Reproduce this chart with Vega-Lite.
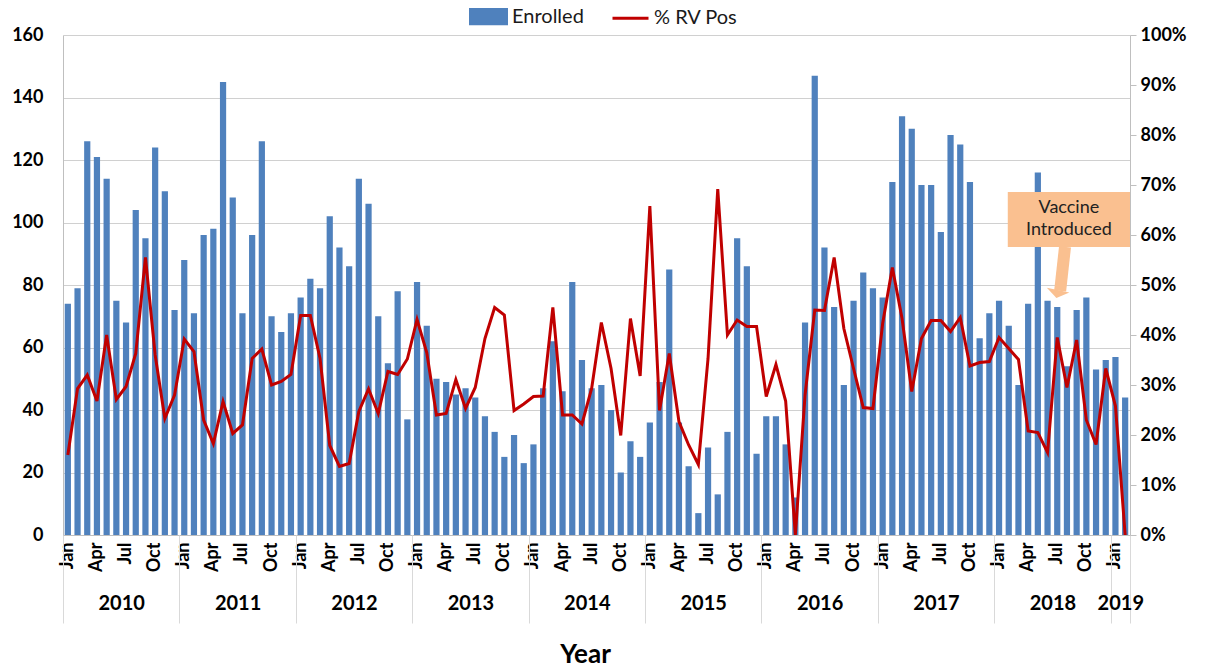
{
  "$schema": "https://vega.github.io/schema/vega-lite/v6.json",
  "width": 1067,
  "height": 500,
  "autosize": "none",
  "padding": {"left": 63, "top": 35, "right": 76, "bottom": 136},
  "background": "white",
  "config": {
    "font": "Lato",
    "view": {"stroke": null},
    "axis": {"labelFont": "Lato", "titleFont": "Lato", "labelColor": "#000000", "titleColor": "#000000"}
  },
  "data": {"values": [
    {"m":"2010-01","enrolled":74,"pct":16},{"m":"2010-02","enrolled":79,"pct":29.3},{"m":"2010-03","enrolled":126,"pct":32},{"m":"2010-04","enrolled":121,"pct":26.8},{"m":"2010-05","enrolled":114,"pct":40},{"m":"2010-06","enrolled":75,"pct":27.1},{"m":"2010-07","enrolled":68,"pct":29.7},{"m":"2010-08","enrolled":104,"pct":36.3},{"m":"2010-09","enrolled":95,"pct":55.5},{"m":"2010-10","enrolled":124,"pct":36},{"m":"2010-11","enrolled":110,"pct":23.3},{"m":"2010-12","enrolled":72,"pct":28},
    {"m":"2011-01","enrolled":88,"pct":39.2},{"m":"2011-02","enrolled":71,"pct":36.7},{"m":"2011-03","enrolled":96,"pct":23},{"m":"2011-04","enrolled":98,"pct":18.3},{"m":"2011-05","enrolled":145,"pct":26.7},{"m":"2011-06","enrolled":108,"pct":20.3},{"m":"2011-07","enrolled":71,"pct":22},{"m":"2011-08","enrolled":96,"pct":35.3},{"m":"2011-09","enrolled":126,"pct":37.2},{"m":"2011-10","enrolled":70,"pct":30},{"m":"2011-11","enrolled":65,"pct":30.7},{"m":"2011-12","enrolled":71,"pct":32.1},
    {"m":"2012-01","enrolled":76,"pct":43.9},{"m":"2012-02","enrolled":82,"pct":43.9},{"m":"2012-03","enrolled":79,"pct":35.3},{"m":"2012-04","enrolled":102,"pct":17.9},{"m":"2012-05","enrolled":92,"pct":13.7},{"m":"2012-06","enrolled":86,"pct":14.3},{"m":"2012-07","enrolled":114,"pct":24.7},{"m":"2012-08","enrolled":106,"pct":29.2},{"m":"2012-09","enrolled":70,"pct":24.3},{"m":"2012-10","enrolled":55,"pct":32.7},{"m":"2012-11","enrolled":78,"pct":32.1},{"m":"2012-12","enrolled":37,"pct":35.2},
    {"m":"2013-01","enrolled":81,"pct":43.1},{"m":"2013-02","enrolled":67,"pct":36.5},{"m":"2013-03","enrolled":50,"pct":24},{"m":"2013-04","enrolled":49,"pct":24.3},{"m":"2013-05","enrolled":45,"pct":31.1},{"m":"2013-06","enrolled":47,"pct":25.3},{"m":"2013-07","enrolled":44,"pct":29.5},{"m":"2013-08","enrolled":38,"pct":39.3},{"m":"2013-09","enrolled":33,"pct":45.5},{"m":"2013-10","enrolled":25,"pct":44},{"m":"2013-11","enrolled":32,"pct":24.9},{"m":"2013-12","enrolled":23,"pct":26.2},
    {"m":"2014-01","enrolled":29,"pct":27.7},{"m":"2014-02","enrolled":47,"pct":27.8},{"m":"2014-03","enrolled":62,"pct":45.5},{"m":"2014-04","enrolled":46,"pct":24},{"m":"2014-05","enrolled":81,"pct":24},{"m":"2014-06","enrolled":56,"pct":22.2},{"m":"2014-07","enrolled":47,"pct":29.3},{"m":"2014-08","enrolled":48,"pct":42.5},{"m":"2014-09","enrolled":40,"pct":33.3},{"m":"2014-10","enrolled":20,"pct":19.9},{"m":"2014-11","enrolled":30,"pct":43.3},{"m":"2014-12","enrolled":25,"pct":31.8},
    {"m":"2015-01","enrolled":36,"pct":65.8},{"m":"2015-02","enrolled":49,"pct":24.9},{"m":"2015-03","enrolled":85,"pct":36.3},{"m":"2015-04","enrolled":36,"pct":22.7},{"m":"2015-05","enrolled":22,"pct":18},{"m":"2015-06","enrolled":7,"pct":14.1},{"m":"2015-07","enrolled":28,"pct":35.3},{"m":"2015-08","enrolled":13,"pct":69.2},{"m":"2015-09","enrolled":33,"pct":40},{"m":"2015-10","enrolled":95,"pct":43},{"m":"2015-11","enrolled":86,"pct":41.7},{"m":"2015-12","enrolled":26,"pct":41.7},
    {"m":"2016-01","enrolled":38,"pct":27.7},{"m":"2016-02","enrolled":38,"pct":34.1},{"m":"2016-03","enrolled":29,"pct":26.8},{"m":"2016-04","enrolled":12,"pct":0},{"m":"2016-05","enrolled":68,"pct":28},{"m":"2016-06","enrolled":147,"pct":45},{"m":"2016-07","enrolled":92,"pct":44.9},{"m":"2016-08","enrolled":73,"pct":55.5},{"m":"2016-09","enrolled":48,"pct":41.3},{"m":"2016-10","enrolled":75,"pct":33.3},{"m":"2016-11","enrolled":84,"pct":25.5},{"m":"2016-12","enrolled":79,"pct":25.3},
    {"m":"2017-01","enrolled":76,"pct":42.3},{"m":"2017-02","enrolled":113,"pct":53.5},{"m":"2017-03","enrolled":134,"pct":43.3},{"m":"2017-04","enrolled":130,"pct":28.7},{"m":"2017-05","enrolled":112,"pct":39.3},{"m":"2017-06","enrolled":112,"pct":42.9},{"m":"2017-07","enrolled":97,"pct":42.9},{"m":"2017-08","enrolled":128,"pct":40.7},{"m":"2017-09","enrolled":125,"pct":43.5},{"m":"2017-10","enrolled":113,"pct":33.8},{"m":"2017-11","enrolled":63,"pct":34.5},{"m":"2017-12","enrolled":71,"pct":34.7},
    {"m":"2018-01","enrolled":75,"pct":39.5},{"m":"2018-02","enrolled":67,"pct":37.3},{"m":"2018-03","enrolled":48,"pct":35.1},{"m":"2018-04","enrolled":74,"pct":20.8},{"m":"2018-05","enrolled":116,"pct":20.5},{"m":"2018-06","enrolled":75,"pct":16.5},{"m":"2018-07","enrolled":73,"pct":39.5},{"m":"2018-08","enrolled":54,"pct":29.5},{"m":"2018-09","enrolled":72,"pct":39},{"m":"2018-10","enrolled":76,"pct":23},{"m":"2018-11","enrolled":53,"pct":18.1},{"m":"2018-12","enrolled":56,"pct":33.3},
    {"m":"2019-01","enrolled":57,"pct":25.8},{"m":"2019-02","enrolled":44,"pct":0}
  ]},
  "layer": [
    {
      "layer": [
        {
          "mark": {"type": "bar"},
          "encoding": {
            "x": {
              "field": "m", "type": "ordinal",
              "scale": {"type": "band", "paddingInner": 0.36, "paddingOuter": 0.18},
              "axis": {
                "orient": "bottom",
                "values": ["2010-01","2010-04","2010-07","2010-10","2011-01","2011-04","2011-07","2011-10","2012-01","2012-04","2012-07","2012-10","2013-01","2013-04","2013-07","2013-10","2014-01","2014-04","2014-07","2014-10","2015-01","2015-04","2015-07","2015-10","2016-01","2016-04","2016-07","2016-10","2017-01","2017-04","2017-07","2017-10","2018-01","2018-04","2018-07","2018-10","2019-01"],
                "labelExpr": "['Jan','','','Apr','','','Jul','','','Oct','',''][toNumber(slice(datum.value,5))-1]",
                "labelAngle": 270, "labelFontSize": 18, "labelFontWeight": "bold", "labelPadding": 7,
                "ticks": false, "domain": true, "domainColor": "#bfbfbf", "domainWidth": 1, "grid": false, "title": null
              }
            },
            "y": {
              "field": "enrolled", "type": "quantitative",
              "scale": {"domain": [0, 160], "nice": false},
              "axis": {
                "orient": "left", "values": [0,20,40,60,80,100,120,140,160], "title": null,
                "labelFontSize": 18, "labelFontWeight": "bold", "labelPadding": 20, "ticks": false, "tickSize": 0,
                "domain": true, "domainColor": "#bfbfbf", "grid": true, "gridColor": "#d0d0d0", "gridWidth": 1
              }
            },
            "color": {
              "datum": "Enrolled", "type": "nominal",
              "scale": {"domain": ["Enrolled", "% RV Pos"], "range": ["#4F81BD", "#C00000"]},
              "legend": {
                "orient": "none", "legendX": 406, "legendY": -38, "direction": "horizontal", "title": null,
                "labelFont": "Lato", "labelFontSize": 20, "labelColor": "#1a1a1a",
                "symbolSize": 1296, "symbolStrokeWidth": 3, "labelOffset": 4, "columnPadding": 22,
                "encode": {"symbols": {"update": {
                  "shape": {"signal": "datum.value === 'Enrolled' ? 'M-1,-0.4H1V0.4H-1Z' : 'M-1,0H1'"},
                  "fill": {"signal": "datum.value === 'Enrolled' ? '#4F81BD' : 'transparent'"},
                  "stroke": {"signal": "datum.value === 'Enrolled' ? 'transparent' : '#C00000'"},
                  "strokeWidth": {"value": 3}
                }}}
              }
            }
          }
        },
        {
          "mark": {"type": "line", "strokeWidth": 3},
          "encoding": {
            "x": {"field": "m", "type": "ordinal"},
            "y": {
              "field": "pct", "type": "quantitative",
              "scale": {"domain": [0, 100], "nice": false},
              "axis": {
                "orient": "right", "values": [0,10,20,30,40,50,60,70,80,90,100], "labelExpr": "datum.value + '%'",
                "title": null, "labelFontSize": 18, "labelFontWeight": "bold", "ticks": true, "tickSize": 6,
                "tickColor": "#bfbfbf", "labelPadding": 4, "domain": true, "domainColor": "#bfbfbf", "grid": false
              }
            },
            "color": {"datum": "% RV Pos", "type": "nominal"}
          }
        }
      ],
      "resolve": {"scale": {"y": "independent"}}
    },
    {
      "data": {"values": [{}]},
      "layer": [
        {
          "mark": {"type": "rect", "color": "#FAC090"},
          "encoding": {
            "x": {"datum": 97.4, "type": "quantitative", "scale": {"domain": [0, 110], "nice": false, "zero": false}, "axis": null},
            "x2": {"datum": 110},
            "y": {"datum": 109.8, "type": "quantitative", "scale": {"domain": [0, 160], "nice": false}, "axis": null},
            "y2": {"datum": 92.2}
          }
        },
        {
          "mark": {"type": "rule", "color": "#FAC090", "strokeWidth": 12, "strokeCap": "butt"},
          "encoding": {
            "x": {"datum": 103.3, "type": "quantitative", "axis": null},
            "x2": {"datum": 102.8},
            "y": {"datum": 92.2, "type": "quantitative", "axis": null},
            "y2": {"datum": 78.1}
          }
        },
        {
          "mark": {"type": "point", "shape": "M-1,-0.35L1,-0.35L0,0.35Z", "size": 529, "filled": true, "color": "#FAC090", "opacity": 1, "angle": 12},
          "encoding": {
            "x": {"datum": 102.5, "type": "quantitative", "axis": null},
            "y": {"datum": 77.1, "type": "quantitative", "axis": null}
          }
        },
        {
          "mark": {"type": "text", "text": ["Vaccine", "Introduced"], "lineHeight": 22, "fontSize": 18, "font": "Lato", "color": "#222222", "align": "center", "baseline": "middle"},
          "encoding": {
            "x": {"datum": 103.7, "type": "quantitative", "axis": null},
            "y": {"datum": 104.6, "type": "quantitative", "axis": null}
          }
        }
      ]
    },
    {
      "data": {"values": [{}]},
      "mark": {"type": "point", "opacity": 0},
      "encoding": {
        "x": {
          "datum": 0, "type": "quantitative",
          "scale": {"domain": [0, 110], "nice": false, "zero": false},
          "axis": {"orient": "bottom", "values": [0,12,24,36,48,60,72,84,96,108,110], "labels": false, "ticks": true, "tickSize": 88, "tickColor": "#d9d9d9", "tickWidth": 1, "domain": false, "grid": false, "title": null}
        }
      }
    },
    {
      "data": {"values": [{}]},
      "mark": {"type": "point", "opacity": 0},
      "encoding": {
        "x": {
          "datum": 0, "type": "quantitative",
          "scale": {"domain": [0, 110], "nice": false, "zero": false},
          "axis": {
            "orient": "bottom", "values": [6,18,30,42,54,66,78,90,102,109],
            "labelExpr": "datum.value == 109 ? '2019' : '' + (2010 + floor(datum.value / 12))",
            "labelFontSize": 20, "labelFontWeight": "bold", "labelPadding": 58, "labelOverlap": false, "labelFlush": false,
            "ticks": false, "domain": false, "grid": false,
            "title": "Year", "titleFontSize": 26, "titleFontWeight": "bold", "titlePadding": 28, "titleX": 522
          }
        }
      }
    }
  ],
  "resolve": {"scale": {"x": "independent", "y": "independent"}}
}
